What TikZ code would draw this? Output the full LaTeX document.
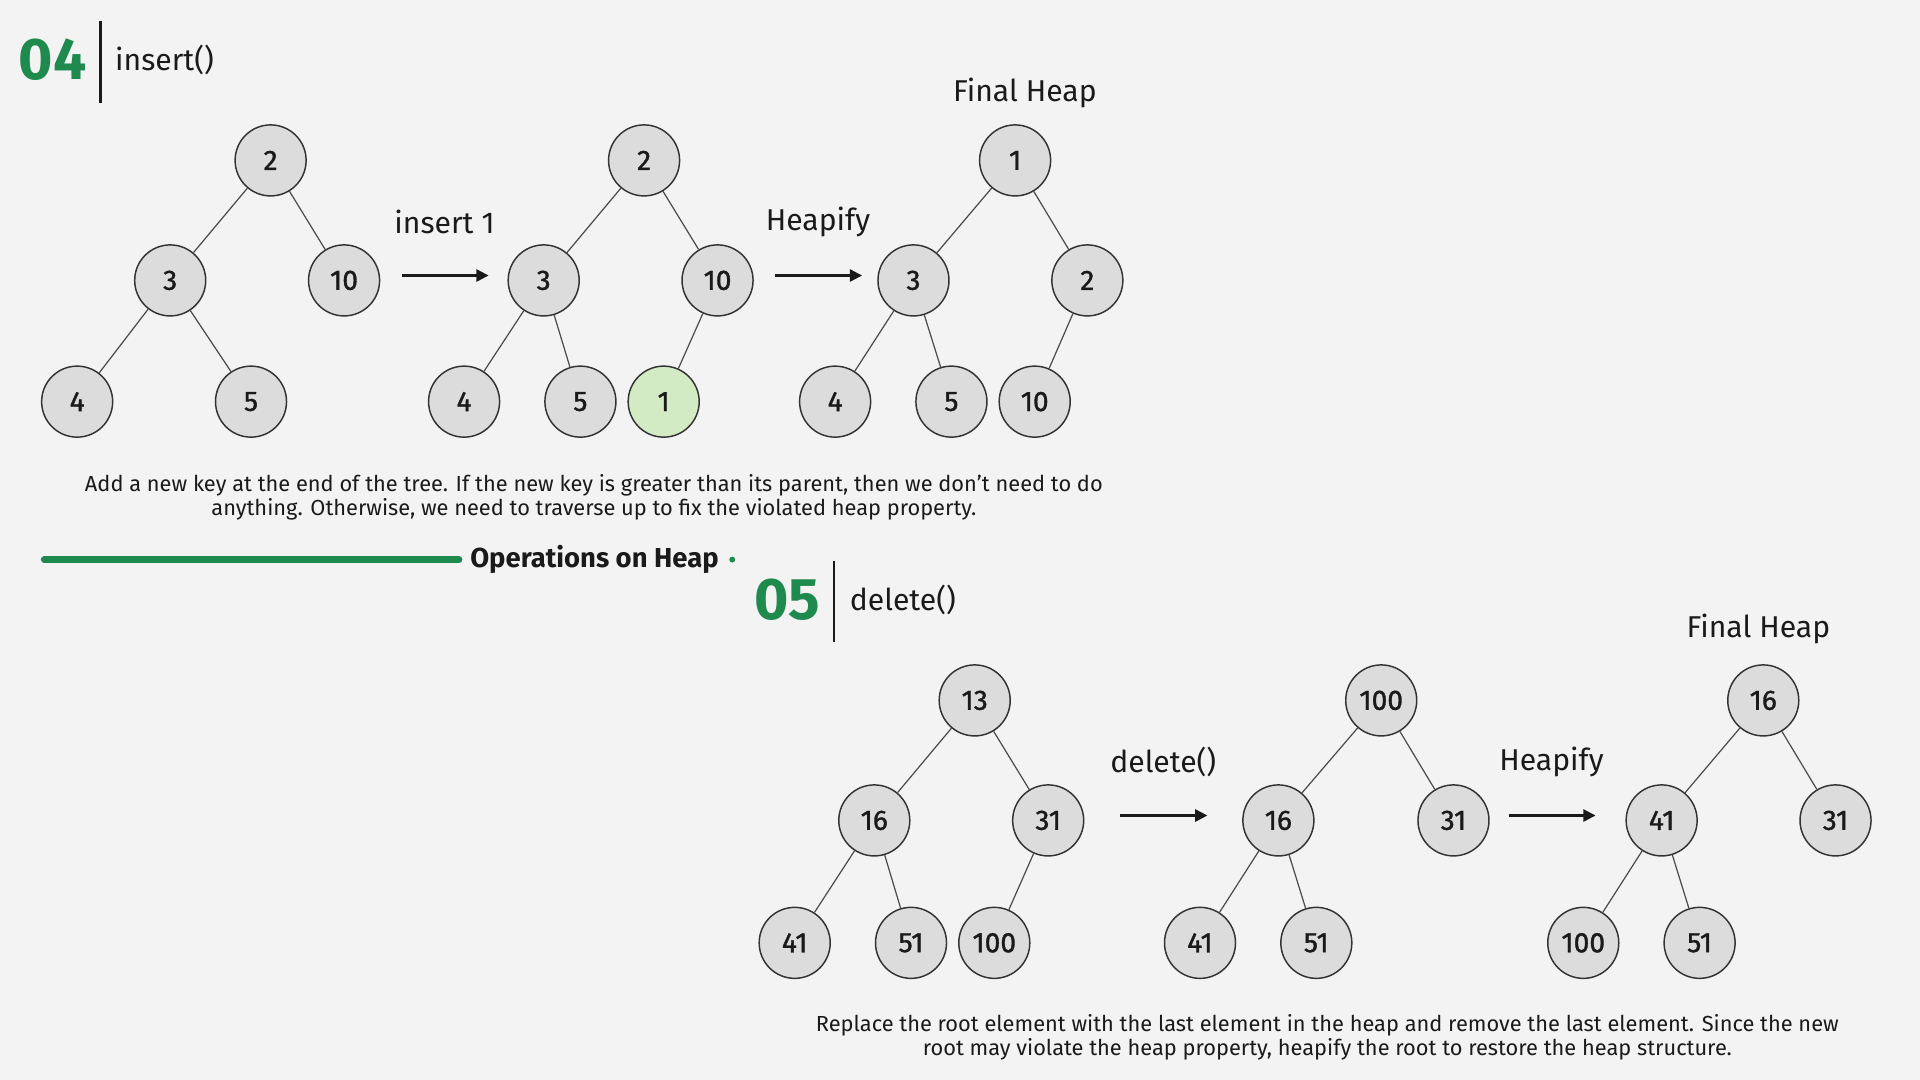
\documentclass[tikz,border=0pt]{standalone}
\usepackage{fontspec}
\setmainfont{Fira Sans}
\usetikzlibrary{positioning,arrows.meta}
\definecolor{bgcol}{HTML}{F3F3F3}
\definecolor{keyfill}{HTML}{DCDCDC}
\definecolor{newfill}{HTML}{D3EBC4}
\definecolor{opgreen}{HTML}{1E8A4E}
\definecolor{inkcol}{HTML}{1A1A1A}
\tikzset{
  key/.style={circle,draw=black!80,fill=keyfill,line width=0.6pt,minimum size=29pt,inner sep=0pt,
    text=inkcol,font=\fontsize{11.5}{13}\selectfont\addfontfeatures{FakeBold=1.2}},
  newkey/.style={key,fill=newfill},
  link/.style={draw=black!70,line width=0.5pt},
  flow/.style={-{Triangle[length=5pt,width=5pt]},line width=0.9pt,draw=inkcol},
  steplbl/.style={text=inkcol,font=\fontsize{12.3}{14}\selectfont},
  opnum/.style={text=opgreen,font=\fontsize{24}{27}\selectfont\bfseries},
  opname/.style={text=inkcol,font=\fontsize{12.3}{14}\selectfont},
  note/.style={text=inkcol,align=center,font=\fontsize{8.9}{10}\selectfont},
}

\begin{document}
\begin{tikzpicture}[x=0.5pt,y=-0.5pt]
  \fill[bgcol] (0,0) rectangle (1568,882);
  \useasboundingbox (0,0) rectangle (1568,882);
  % insert() header
  \node[opnum] (n04) at (43,49) {04};
  \draw[line width=1pt,inkcol] (82,17) -- (82,84);
  \node[opname,anchor=west] (ins) at (87,49) {insert()};
  % heap before insertion
  \node[key] (a2) at (221,131) {2};
  \node[key] (a3) at (139,229) {3};
  \node[key] (a10) at (281,229) {10};
  \node[key] (a4) at (63,328) {4};
  \node[key] (a5) at (205,328) {5};
  \draw[link] (a2)--(a3); \draw[link] (a2)--(a10);
  \draw[link] (a3)--(a4); \draw[link] (a3)--(a5);
  \node[steplbl] (lins) at (363,181) {insert 1};
  \coordinate (f1s) at (328,225); \coordinate (f1e) at (399,225);
  \draw[flow] (f1s)--(f1e);
  % after insertion
  \node[key] (b2) at (526,131) {2};
  \node[key] (b3) at (444,229) {3};
  \node[key] (b10) at (586,229) {10};
  \node[key] (b4) at (379,328) {4};
  \node[key] (b5) at (474,328) {5};
  \node[newkey] (b1) at (542,328) {1};
  \draw[link] (b2)--(b3); \draw[link] (b2)--(b10);
  \draw[link] (b3)--(b4); \draw[link] (b3)--(b5);
  \draw[link] (b10)--(b1);
  \node[steplbl] (lhp1) at (668,181) {Heapify};
  \coordinate (f2s) at (633,225); \coordinate (f2e) at (704,225);
  \draw[flow] (f2s)--(f2e);
  % final heap
  \node[steplbl] (fin1) at (837,76) {Final Heap};
  \node[key] (c1) at (829,131) {1};
  \node[key] (c3) at (746,229) {3};
  \node[key] (c2) at (888,229) {2};
  \node[key] (c4) at (682,328) {4};
  \node[key] (c5) at (777,328) {5};
  \node[key] (c10) at (845,328) {10};
  \draw[link] (c1)--(c3); \draw[link] (c1)--(c2);
  \draw[link] (c3)--(c4); \draw[link] (c3)--(c5);
  \draw[link] (c2)--(c10);
  \node[note] (insnote) at (485,406) {Add a new key at the end of the tree. If the new key is greater than its parent, then we don’t need to do\\anything. Otherwise, we need to traverse up to fix the violated heap property.};
  % section rule
  \draw[opgreen,line width=2.6pt,line cap=round] (36,457) -- (375,457);
  \node[anchor=west,text=inkcol,font=\fontsize{11.2}{13}\selectfont\bfseries] (ops) at (377,457) {Operations on Heap};
  \fill[opgreen] (598,457) circle (2.4);
  % delete() header
  \node[opnum] (n05) at (643,490) {05};
  \draw[line width=1pt,inkcol] (681,458) -- (681,524);
  \node[opname,anchor=west] (del) at (687,490) {delete()};
  % heap before deletion
  \node[key] (d13) at (796,572) {13};
  \node[key] (d16) at (714,670) {16};
  \node[key] (d31) at (856,670) {31};
  \node[key] (d41) at (649,770) {41};
  \node[key] (d51) at (744,770) {51};
  \node[key] (d100) at (812,770) {100};
  \draw[link] (d13)--(d16); \draw[link] (d13)--(d31);
  \draw[link] (d16)--(d41); \draw[link] (d16)--(d51);
  \draw[link] (d31)--(d100);
  \node[steplbl] (ldel) at (950,622) {delete()};
  \coordinate (f3s) at (915,666); \coordinate (f3e) at (986,666);
  \draw[flow] (f3s)--(f3e);
  % after deletion
  \node[key] (e100) at (1128,572) {100};
  \node[key] (e16) at (1044,670) {16};
  \node[key] (e31) at (1187,670) {31};
  \node[key] (e41) at (980,770) {41};
  \node[key] (e51) at (1075,770) {51};
  \draw[link] (e100)--(e16); \draw[link] (e100)--(e31);
  \draw[link] (e16)--(e41); \draw[link] (e16)--(e51);
  \node[steplbl] (lhp2) at (1267,622) {Heapify};
  \coordinate (f4s) at (1232,666); \coordinate (f4e) at (1303,666);
  \draw[flow] (f4s)--(f4e);
  % final heap
  \node[steplbl] (fin2) at (1436,514) {Final Heap};
  \node[key] (g16) at (1440,572) {16};
  \node[key] (g41) at (1357,670) {41};
  \node[key] (g31) at (1499,670) {31};
  \node[key] (g100) at (1293,770) {100};
  \node[key] (g51) at (1388,770) {51};
  \draw[link] (g16)--(g41); \draw[link] (g16)--(g31);
  \draw[link] (g41)--(g100); \draw[link] (g41)--(g51);
  \node[note] (delnote) at (1084,847) {Replace the root element with the last element in the heap and remove the last element. Since the new\\root may violate the heap property, heapify the root to restore the heap structure.};
\end{tikzpicture}
\end{document}
